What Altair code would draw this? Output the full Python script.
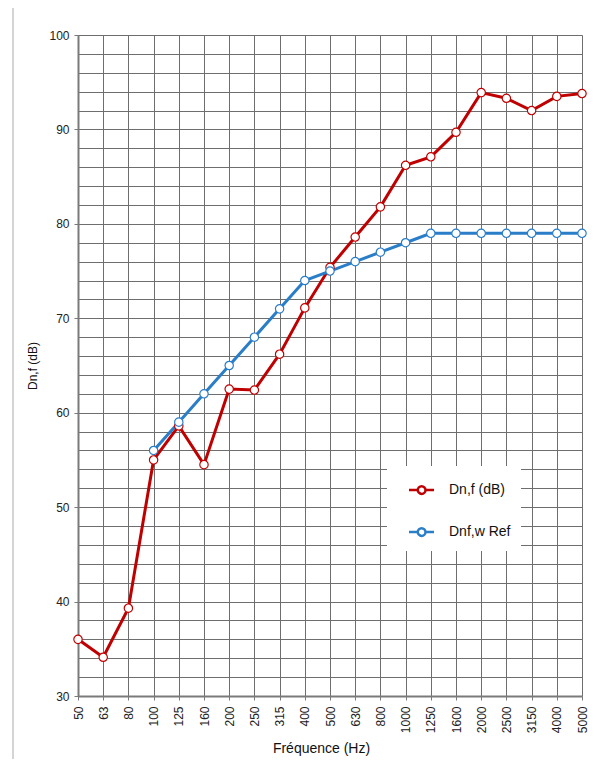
import altair as alt
import pandas as pd

freqs = ["50", "63", "80", "100", "125", "160", "200", "250", "315", "400", "500",
         "630", "800", "1000", "1250", "1600", "2000", "2500", "3150", "4000", "5000"]
dnf = [36.0, 34.1, 39.3, 55.0, 58.6, 54.5, 62.5, 62.4, 66.2, 71.1, 75.4,
       78.6, 81.8, 86.2, 87.1, 89.7, 93.9, 93.3, 92.0, 93.5, 93.8]
ref_freqs = ["100", "125", "160", "200", "250", "315", "400", "500", "630", "800",
             "1000", "1250", "1600", "2000", "2500", "3150", "4000", "5000"]
ref_vals = [56, 59, 62, 65, 68, 71, 74, 75, 76, 77, 78, 79, 79, 79, 79, 79, 79, 79]

series_names = ["Dn,f (dB)", "Dnf,w Ref"]
series_colors = ["#C00000", "#2A7EC8"]
y_ticks = list(range(30, 101, 2))

df = pd.concat([
    pd.DataFrame({"freq": freqs, "val": dnf, "serie": series_names[0]}),
    pd.DataFrame({"freq": ref_freqs, "val": ref_vals, "serie": series_names[1]}),
], ignore_index=True)

FONT = "Liberation Sans"

legend_path = ("M-0.16,0L0.54,0M1.16,0L1.84,0"
               "M0.54,0A0.31,0.31,0,1,0,1.16,0A0.31,0.31,0,1,0,0.54,0Z")

x_enc = alt.X("freq:O", sort=freqs, scale=alt.Scale(domain=freqs, padding=0),
              axis=alt.Axis(title="Fréquence (Hz)", labelAngle=270, labelAlign="right",
                            labelBaseline="middle", labelPadding=6, tickSize=4,
                            grid=True, gridColor="#6E6E6E", gridWidth=1,
                            domainColor="#7A7A7A", domainWidth=2, tickColor="#7A7A7A",
                            labelFont=FONT, labelFontSize=12, labelColor="#222",
                            titleFont=FONT, titleFontSize=14, titleFontWeight="normal",
                            titleColor="#111", titlePadding=9, titleX=243))
y_enc = alt.Y("val:Q", scale=alt.Scale(domain=[30, 100], nice=False, zero=False),
              axis=alt.Axis(title="Dn,f (dB)", values=y_ticks,
                            labelExpr="datum.value % 10 === 0 ? datum.label : ''",
                            tickSize=4,
                            tickColor={"condition": {"test": "datum.value % 10 === 0", "value": "#7A7A7A"},
                                       "value": "transparent"},
                            grid=True, gridColor="#6E6E6E", gridWidth=1,
                            domainColor="#7A7A7A", domainWidth=2,
                            labelFont=FONT, labelFontSize=12, labelColor="#222", labelPadding=5,
                            titleFont=FONT, titleFontSize=12, titleFontWeight="normal",
                            titleColor="#111", titlePadding=9))
stroke_enc = alt.Stroke("serie:N", scale=alt.Scale(domain=series_names, range=series_colors),
                        legend=alt.Legend(title=None, orient="none", legendX=309, legendY=431,
                                          fillColor="white", padding=10, rowPadding=19,
                                          symbolType=legend_path, symbolSize=625,
                                          symbolStrokeWidth=2.5, symbolFillColor="white",
                                          labelOffset=24, labelFont=FONT, labelFontSize=14,
                                          labelColor="#111", labelLimit=300,
                                          labelExpr="datum.label + '\u00a0\u00a0\u00a0\u00a0\u00a0\u00a0'"))

lines = alt.Chart(df).mark_line(
    strokeWidth=3,
    point=alt.OverlayMarkDef(filled=True, fill="white", size=70, strokeWidth=1.2)
).encode(x=x_enc, y=y_enc, stroke=stroke_enc)

frame = alt.Chart(pd.DataFrame({"a": [0]})).mark_rule(color="#AAAAAA", strokeWidth=1).encode(
    x=alt.value(-65), y=alt.value(-35), y2=alt.value(730))

chart = alt.layer(lines, frame).properties(
    width=504, height=661,
    autosize=alt.AutoSizeParams(type="none"),
    padding={"left": 70, "top": 27, "right": 6, "bottom": 63},
).configure_view(stroke="#A0A0A0", strokeWidth=2).configure(background="white")

chart.save("out.html", embed_options={"renderer": "svg", "actions": False})
